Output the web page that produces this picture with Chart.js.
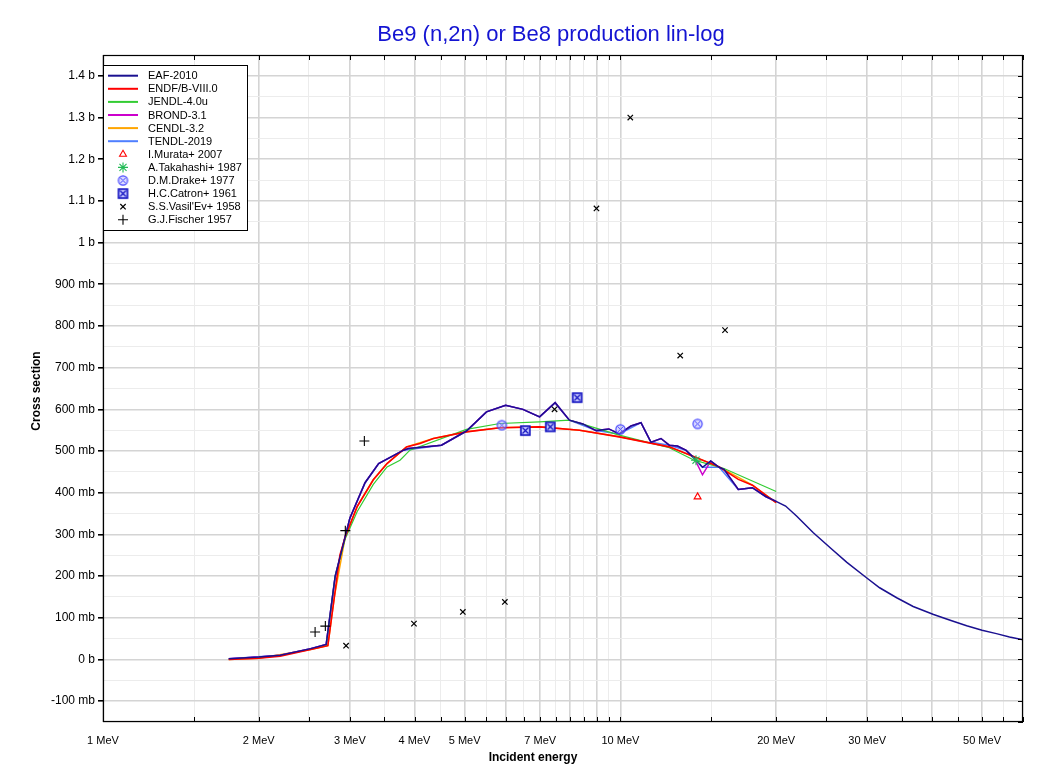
<!DOCTYPE html>
<html><head><meta charset="utf-8">
<script src="https://cdn.jsdelivr.net/npm/chart.js@4.4.1/dist/chart.umd.min.js"></script>
<style>html,body{margin:0;padding:0;background:#fff;} canvas{display:block;}</style>
</head><body>
<canvas id="c" width="1046" height="774"></canvas>
<script>
// ---------------- data ----------------
const titleText = "Be9 (n,2n) or Be8 production lin-log";
const xTitle = "Incident energy";
const yTitle = "Cross section";

const xTickValues = [1,1.5,2,2.5,3,3.5,4,4.5,5,5.5,6,6.5,7,7.5,8,8.5,9,9.5,10,15,20,25,30,35,40,45,50,55,60];
const xMajorTicks = [1,2,3,4,5,6,7,8,9,10,20,30,40,50,60];
const xLabelTicks = [1,2,3,4,5,7,10,20,30,50];

// EAF-2010 (MeV, mb)
const eafE = [1.75,2.0,2.2,2.52,2.70,2.81,3.0,3.21,3.41,3.81,3.89,4.51,5.04,5.51,6.0,6.48,6.98,7.48,7.97,8.46,8.98,9.5,9.95,10.48,10.96,11.46,11.98,12.43,12.89,13.38,13.89,14.41,14.95,15.52,15.86,16.9,17.99,19.09,19.95,20.86,21.9,23.6,25.6,27.4,29.9,31.7,34.2,36.8,40.3,43.4,46.7,50.0,53.3,56.5,60.0];
const eafS = [2,6,10,26,36,199,339,424,470,502,506,514,548,594,610,600,582,616,574,565,549,553,541,560,568,521,530,514,512,502,483,461,476,461,456,408,412,391,380,368,344,304,265,233,196,172,148,127,108,94,81,70,62,54,47];

// ENDF/B-VIII.0
const endfE = [1.75,2.0,2.2,2.52,2.72,2.80,2.87,2.94,3.10,3.33,3.54,3.86,4.10,4.35,5.04,5.85,6.98,8.34,9.95,12.43,13.89,15.52,16.9,18.0,19.1,20.0];
const endfS = [0,3,8,24,33,150,250,295,367,431,470,510,518,530,546,556,558,550,534,510,486,462,432,418,394,376];

// JENDL-4.0u
const jendlE = [1.75,2.0,2.2,2.52,2.70,2.81,2.94,3.10,3.33,3.54,3.75,3.92,5.04,5.85,6.98,7.97,9.95,12.43,13.89,15.86,20.0];
const jendlS = [1,5,9,25,33,200,290,355,420,462,478,502,552,566,570,574,538,508,478,458,403];

// BROND-3.1
const brondE = [1.75,2.0,2.2,2.52,2.70,2.81,3.0,3.21,3.41,3.81,3.89,4.51,5.04,5.51,6.0,6.48,6.98,7.48,7.97,8.46,8.98,9.5,9.95,10.48,10.96,11.46,11.98,12.43,12.89,13.38,13.89,14.41,14.95,15.52,15.86,16.9,17.99,19.09,20.0];
const brondS = [2,6,10,26,36,199,339,424,470,502,506,514,548,594,610,600,582,616,574,565,549,553,541,560,568,521,530,514,512,502,483,443,476,461,456,408,412,391,379];

// CENDL-3.2 (hidden under ENDF)
const cendlE = [1.75,2.0,2.52,2.72,2.80,2.94,3.10,3.33,3.54,3.86,4.35,5.04,5.85,6.98,8.34,9.95,12.43,13.89,15.52,18.0,20.0];
const cendlS = [0,3,24,33,150,295,367,431,470,510,530,546,556,558,550,534,510,486,462,418,376];

// TENDL-2019 (hidden under EAF)
const tendlE = [1.75,2.2,2.52,2.70,2.81,3.0,3.21,3.41,3.81,4.51,5.04,5.51,6.0,6.48,6.98,7.48,7.97,8.98,9.95,10.96,11.46,12.43,13.38,14.41,15.52,16.9,17.99,19.09,20.0];
const tendlS = [2,10,26,36,199,339,424,470,502,514,548,594,610,600,582,616,574,549,541,568,521,514,502,461,461,408,412,391,379];

// Experimental points
const murataE = [14.1];          const murataS = [390];
const takahashiE = [14.0];       const takahashiS = [478];
const drakeE = [5.9,10.0,14.1];  const drakeS = [562,552,565];
const catronE = [6.55,7.32,8.25]; const catronS = [549,558,628];
const vasilevE = [2.95,3.99,4.96,5.98,7.46,8.99,10.45,13.05,15.93];
const vasilevS = [33,86,114,138,600,1082,1300,729,790];
const fischerE = [2.57,2.69,2.94,3.20];
const fischerS = [66,80,309,524];

// ---------------- helpers ----------------
const pts = (xs, ys) => xs.map((x, i) => ({x: x, y: ys[i]}));

function makeCircleX() {
  const c = document.createElement('canvas'); c.width = 13; c.height = 13;
  const g = c.getContext('2d');
  g.strokeStyle = '#4848ff'; g.fillStyle = 'rgba(170,170,255,0.45)'; g.lineWidth = 1.2;
  g.beginPath(); g.arc(6.5, 6.5, 4.6, 0, Math.PI*2); g.fill(); g.stroke();
  g.lineWidth = 1;
  g.beginPath(); g.moveTo(3.3, 3.3); g.lineTo(9.7, 9.7); g.moveTo(9.7, 3.3); g.lineTo(3.3, 9.7); g.stroke();
  return c;
}
function makeSquareX() {
  const c = document.createElement('canvas'); c.width = 13; c.height = 13;
  const g = c.getContext('2d');
  g.fillStyle = '#c8c8ff'; g.fillRect(2, 2, 9, 9);
  g.strokeStyle = '#1010c0'; g.lineWidth = 1.6;
  g.strokeRect(2, 2, 9, 9);
  g.lineWidth = 1.2;
  g.beginPath(); g.moveTo(3.5, 3.5); g.lineTo(9.5, 9.5); g.moveTo(9.5, 3.5); g.lineTo(3.5, 9.5); g.stroke();
  return c;
}
const circleX = makeCircleX();
const squareX = makeSquareX();

function lineDs(label, xs, ys, color, order, width) {
  return { label, data: pts(xs, ys), showLine: true, borderColor: color, backgroundColor: color,
    borderWidth: width || 1.5, pointRadius: 0, pointHoverRadius: 0, tension: 0, order, isLine: true };
}
function ptDs(label, xs, ys, style, color, radius, bw, bg) {
  return { label, data: pts(xs, ys), showLine: false, pointStyle: style, pointRadius: radius,
    pointHoverRadius: radius, borderColor: color, backgroundColor: bg || 'rgba(0,0,0,0)',
    pointBorderWidth: bw, borderWidth: bw, order: 0, isLine: false };
}

const datasets = [
  lineDs('EAF-2010', eafE, eafS, '#1a1090', 1, 1.5),
  lineDs('ENDF/B-VIII.0', endfE, endfS, '#ff0000', 2, 1.6),
  lineDs('JENDL-4.0u', jendlE, jendlS, '#33cc33', 3, 1.2),
  lineDs('BROND-3.1', brondE, brondS, '#cc00cc', 4, 1.5),
  lineDs('CENDL-3.2', cendlE, cendlS, '#ffa500', 5, 1.5),
  lineDs('TENDL-2019', tendlE, tendlS, '#4f7fff', 6, 1.5),
  ptDs('I.Murata+ 2007', murataE, murataS, 'triangle', '#ff0000', 4, 1.1),
  ptDs('A.Takahashi+ 1987', takahashiE, takahashiS, 'star', '#22bb55', 5, 1.1),
  ptDs('D.M.Drake+ 1977', drakeE, drakeS, circleX, '#4848ff', 5, 1),
  ptDs('H.C.Catron+ 1961', catronE, catronS, squareX, '#1010c0', 5, 1),
  ptDs("S.S.Vasil'Ev+ 1958", vasilevE, vasilevS, 'crossRot', '#000000', 3.8, 1.2),
  ptDs('G.J.Fischer 1957', fischerE, fischerS, 'cross', '#000000', 5, 1.1)
];

const yTickValues = [];
for (let v = -150; v <= 1450; v += 50) yTickValues.push(v);

function yLabel(v) {
  if (v % 100 !== 0) return '';
  if (v === 0) return '0 b';
  if (Math.abs(v) >= 1000) return (v / 1000) + ' b';
  return v + ' mb';
}

// ---------------- decoration plugin ----------------
const deco = {
  id: 'deco',
  afterDraw(chart) {
    const ctx = chart.ctx, a = chart.chartArea;
    const xs = chart.scales.x, ys = chart.scales.y;
    ctx.save();
    // frame
    ctx.strokeStyle = '#000'; ctx.lineWidth = 1.2;
    ctx.strokeRect(a.left + 0.5, a.top + 0.5, a.right - a.left - 1, a.bottom - a.top - 1);
    // inward ticks on x (bottom & top)
    ctx.lineWidth = 1;
    ctx.beginPath();
    xTickValues.forEach(v => {
      const px = Math.round(xs.getPixelForValue(v)) + 0.5;
      ctx.moveTo(px, a.bottom); ctx.lineTo(px, a.bottom - 5);
      ctx.moveTo(px, a.top); ctx.lineTo(px, a.top + 5);
    });
    // inward ticks on right
    yTickValues.forEach(v => {
      const py = Math.round(ys.getPixelForValue(v)) + 0.5;
      ctx.moveTo(a.right, py); ctx.lineTo(a.right - 5, py);
    });
    ctx.stroke();

    // title
    ctx.fillStyle = '#1414d2';
    ctx.font = '22px "Liberation Sans", Arial, sans-serif';
    ctx.textAlign = 'center'; ctx.textBaseline = 'middle';
    ctx.fillText(titleText, 551, 35);

    // axis titles
    ctx.fillStyle = '#000';
    ctx.font = 'bold 12px "Liberation Sans", Arial, sans-serif';
    ctx.fillText(xTitle, 533, 758);
    ctx.save();
    ctx.translate(37, 391); ctx.rotate(-Math.PI / 2);
    ctx.fillText(yTitle, 0, 0);
    ctx.restore();

    // legend
    const lx = 103.5, ly = 65.5, lw = 144, lh = 165;
    ctx.fillStyle = '#fff';
    ctx.fillRect(lx, ly, lw, lh);
    ctx.strokeStyle = '#000'; ctx.lineWidth = 1;
    ctx.strokeRect(lx, ly, lw, lh);
    ctx.font = '11px "Liberation Sans", Arial, sans-serif';
    ctx.textAlign = 'left'; ctx.textBaseline = 'middle';
    datasets.forEach((ds, i) => {
      const yy = 75.7 + i * 13.1;
      if (ds.isLine) {
        ctx.strokeStyle = ds.borderColor; ctx.lineWidth = 2;
        ctx.beginPath(); ctx.moveTo(108, yy); ctx.lineTo(138, yy); ctx.stroke();
      } else {
        ctx.strokeStyle = ds.borderColor; ctx.fillStyle = ds.backgroundColor;
        ctx.lineWidth = ds.borderWidth;
        Chart.helpers.drawPoint(ctx, {pointStyle: ds.pointStyle, radius: ds.pointRadius, rotation: 0, borderWidth: ds.borderWidth}, 123, yy);
      }
      ctx.fillStyle = '#000';
      ctx.fillText(ds.label, 148, yy + 0.5);
    });
    ctx.restore();
  }
};

new Chart(document.getElementById('c'), {
  type: 'scatter',
  data: { datasets },
  plugins: [deco],
  options: {
    responsive: false,
    animation: false,
    devicePixelRatio: 1,
    layout: { padding: { top: 55, right: 23, left: 0, bottom: 0 } },
    plugins: { legend: { display: false }, tooltip: { enabled: false }, title: { display: false } },
    scales: {
      x: {
        type: 'logarithmic', min: 1, max: 60,
        afterBuildTicks: s => { s.ticks = xTickValues.map(v => ({ value: v })); },
        afterFit: s => { s.height = 52; },
        ticks: {
          autoSkip: false, maxRotation: 0, minRotation: 0, padding: 12,
          color: '#000', font: { family: '"Liberation Sans", Arial, sans-serif', size: 11 },
          callback: v => xLabelTicks.includes(v) ? v + ' MeV' : ''
        },
        grid: {
          drawTicks: false,
          color: c => (c.tick && xMajorTicks.includes(c.tick.value)) ? '#d4d4d4' : '#ececec',
          lineWidth: c => (c.tick && xMajorTicks.includes(c.tick.value)) ? 1.6 : 1
        },
        border: { display: false }
      },
      y: {
        type: 'linear', min: -150, max: 1450,
        afterBuildTicks: s => { s.ticks = yTickValues.map(v => ({ value: v })); },
        afterFit: s => { s.width = 103; },
        ticks: {
          autoSkip: false, padding: 3, color: '#000',
          font: { family: '"Liberation Sans", Arial, sans-serif', size: 12 },
          callback: v => yLabel(v)
        },
        grid: {
          drawTicks: true, tickLength: 5,
          tickColor: c => (c.tick && c.tick.value % 100 === 0) ? '#000' : 'rgba(0,0,0,0)',
          color: c => (c.tick && c.tick.value % 100 === 0) ? '#d4d4d4' : '#ececec',
          lineWidth: c => (c.tick && c.tick.value % 100 === 0) ? 1.6 : 1
        },
        border: { display: false }
      }
    }
  }
});
</script>
</body></html>
